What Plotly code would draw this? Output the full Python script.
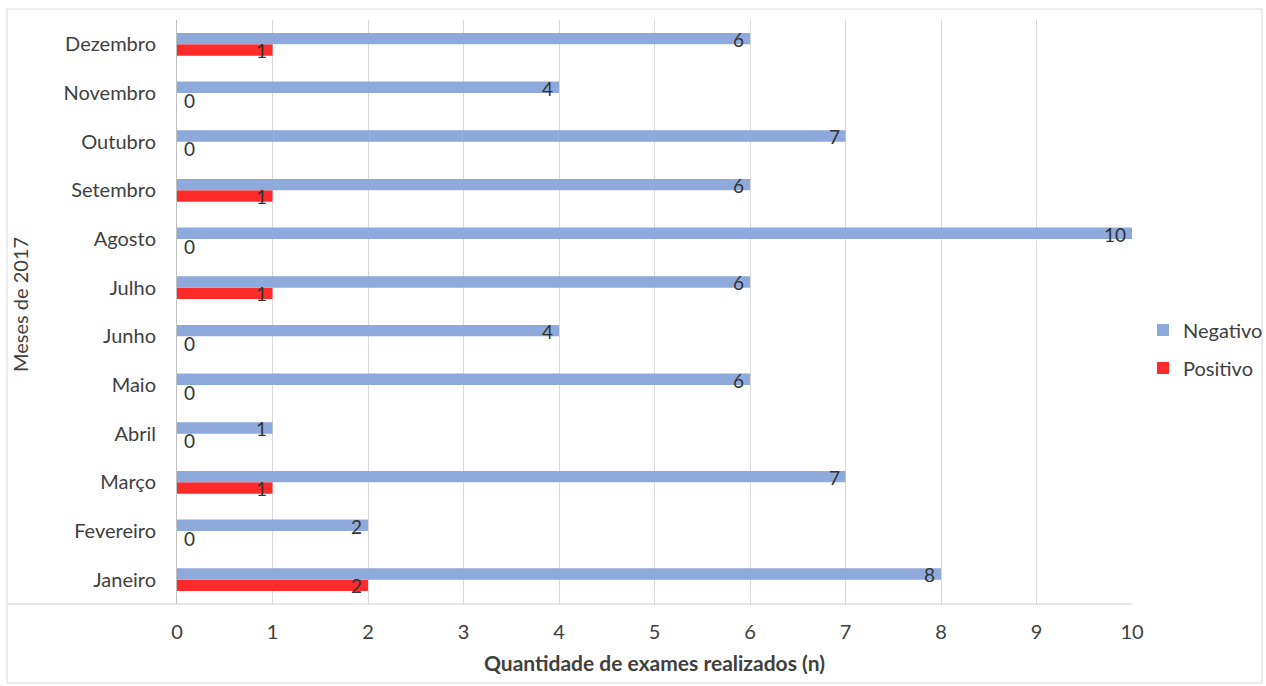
import plotly.graph_objects as go

# Monthly exam counts, 2017
meses = ["Janeiro", "Fevereiro", "Março", "Abril", "Maio", "Junho",
         "Julho", "Agosto", "Setembro", "Outubro", "Novembro", "Dezembro"]
negativo = [8, 2, 7, 1, 6, 4, 6, 10, 6, 7, 4, 6]
positivo = [2, 0, 1, 0, 0, 0, 1, 0, 1, 0, 0, 1]
x_ticks = list(range(0, 11))

COR_NEG = "#8EA9DB"
COR_POS = "#FF2A2A"
FONTE = "Lato, 'Open Sans', sans-serif"
CINZA = "#404040"
FS = 20

W, H = 1266, 686
L, R, T, B = 177, 134, 20, 82
pw, ph = W - L - R, H - T - B


def px_x(p):
    return (p - L) / pw


def px_y(p):
    return (H - B - p) / ph


fig = go.Figure()
fig.add_trace(go.Bar(name="Positivo", y=meses, x=positivo, orientation="h",
                     legendgroup="pos", legendrank=2,
                     marker=dict(color=COR_POS, line=dict(width=0))))
fig.add_trace(go.Bar(name="Negativo", y=meses, x=negativo, orientation="h",
                     legendgroup="neg", legendrank=1,
                     marker=dict(color=COR_NEG, line=dict(width=0))))

anots = []
for serie, shift in ((negativo, 5), (positivo, -6)):
    for m, v in zip(meses, serie):
        if v == 0:
            anots.append(dict(x=0, y=m, xref="x", yref="y", text=str(v),
                              showarrow=False, xanchor="left", xshift=5,
                              yshift=shift - 1,
                              font=dict(family=FONTE, size=FS - 1, color="#333333")))
        else:
            anots.append(dict(x=v, y=m, xref="x", yref="y", text=str(v),
                              showarrow=False, xanchor="right", xshift=-4,
                              yshift=shift,
                              font=dict(family=FONTE, size=FS - 1, color="#333333")))

anots.append(dict(x=0.5, y=px_y(662), xref="paper", yref="paper",
                  text="<b>Quantidade de exames realizados (n)</b>",
                  showarrow=False, xanchor="center", yanchor="middle",
                  font=dict(family=FONTE, size=21, color=CINZA)))
anots.append(dict(x=px_x(20), y=px_y(305), xref="paper", yref="paper",
                  text="Meses de 2017", textangle=-90,
                  showarrow=False, xanchor="center", yanchor="middle",
                  font=dict(family=FONTE, size=FS, color=CINZA)))

fig.update_layout(
    width=W, height=H,
    margin=dict(l=L, r=R, t=T, b=B, autoexpand=False),
    paper_bgcolor="white", plot_bgcolor="white",
    barmode="group", bargap=0.53, bargroupgap=0,
    font=dict(family=FONTE, size=FS, color=CINZA),
    showlegend=True,
    legend=dict(x=px_x(1143), y=px_y(349), xanchor="left", yanchor="middle",
                traceorder="grouped",
                font=dict(family=FONTE, size=FS, color=CINZA),
                itemwidth=30, tracegroupgap=9, bgcolor="rgba(0,0,0,0)"),
    annotations=anots,
    shapes=[
        dict(type="rect", xref="paper", yref="paper",
             x0=px_x(7), x1=px_x(1262), y0=px_y(683), y1=px_y(9),
             line=dict(color="#D9D9D9", width=1)),
        dict(type="line", xref="paper", yref="paper",
             x0=px_x(8), x1=1, y0=0, y1=0,
             line=dict(color="#D0D0D0", width=1)),
    ],
)

fig.update_xaxes(range=[0, 10], tickvals=x_ticks, showgrid=True,
                 gridcolor="#D9D9D9", gridwidth=1, zeroline=False,
                 showline=False, ticks="", ticklabelstandoff=14,
                 tickfont=dict(family=FONTE, size=FS, color=CINZA))
fig.update_yaxes(type="category", categoryorder="array", categoryarray=meses,
                 showgrid=False, zeroline=False, showline=True,
                 linecolor="#BFBFBF", linewidth=1, ticks="",
                 ticklabelstandoff=16,
                 tickfont=dict(family=FONTE, size=FS, color=CINZA))

fig.write_html("out.html")
